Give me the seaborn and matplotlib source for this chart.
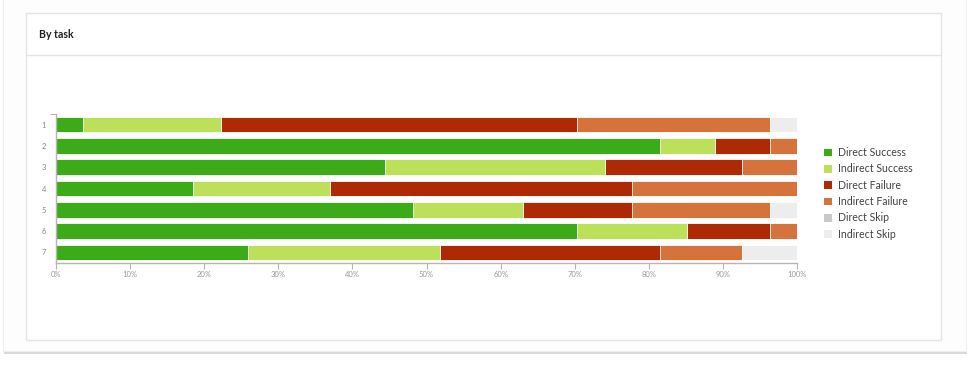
import matplotlib
matplotlib.use("Agg")
import matplotlib.pyplot as plt
from matplotlib.patches import Rectangle, Patch
from matplotlib.lines import Line2D
import pandas as pd
import seaborn as sns

# Participants per outcome for each task (27 participants)
tasks = ["1", "2", "3", "4", "5", "6", "7"]
direct_success = [1, 22, 12, 5, 13, 19, 7]
indirect_success = [5, 2, 8, 5, 4, 4, 7]
direct_failure = [13, 2, 5, 11, 4, 3, 8]
indirect_failure = [7, 1, 2, 6, 5, 1, 3]
direct_skip = [0, 0, 0, 0, 0, 0, 0]
indirect_skip = [1, 0, 0, 0, 1, 0, 2]

outcomes = ["Direct Success", "Indirect Success", "Direct Failure",
            "Indirect Failure", "Direct Skip", "Indirect Skip"]
colors = ["#3cab18", "#bde05b", "#ad2a05", "#d5733b", "#c9c9c9", "#ededed"]

df = pd.DataFrame({
    "task": tasks,
    "Direct Success": direct_success,
    "Indirect Success": indirect_success,
    "Direct Failure": direct_failure,
    "Indirect Failure": indirect_failure,
    "Direct Skip": direct_skip,
    "Indirect Skip": indirect_skip,
})
totals = df[outcomes].sum(axis=1)
pct = df[outcomes].div(totals, axis=0) * 100
cum = pct.cumsum(axis=1)
cum["task"] = df["task"]

sns.set_style("white")
plt.rcParams["font.family"] = ["Lato", "DejaVu Sans"]

fig = plt.figure(figsize=(9.68, 3.73), dpi=100)
W, H = 968, 373


def box(x0, y0, x1, y1, z, **kw):
    # rectangle in pixel coords measured from top-left
    fig.patches.append(Rectangle((x0 / W, 1 - y1 / H), (x1 - x0) / W, (y1 - y0) / H,
                                 transform=fig.transFigure, zorder=z, **kw))


# card with shadow
box(4, -5, 967, 354, -3, facecolor="#d9d9d9", edgecolor="none")
box(3, -5, 966, 351, -2, facecolor="#fdfdfd", edgecolor="#efefef", linewidth=0.8)
# inner panel
box(26, 13, 941, 340, -1, facecolor="white", edgecolor="#e4e4e4", linewidth=1)
fig.lines.append(Line2D([26 / W, 941 / W], [1 - 55 / H, 1 - 55 / H],
                        transform=fig.transFigure, color="#e4e4e4", linewidth=1))
fig.text(39 / W, 1 - 34.5 / H, "By task", fontsize=7.6, color="#222222",
         fontweight="bold", va="center", ha="left")

ax = fig.add_axes([56 / W, 1 - 263 / H, (797 - 56) / W, (263 - 114) / H])
ax.set_facecolor("none")

# stacked bars: draw cumulative totals back to front
for name, col in reversed(list(zip(outcomes, colors))):
    sns.barplot(data=cum, x=name, y="task", order=tasks, orient="h",
                color=col, width=0.73, edgecolor="white", linewidth=0.6,
                saturation=1, ax=ax)

ax.set_xlim(0, 100)
ax.set_ylim(6.5, -0.5)
ax.set_xticks(range(0, 101, 10))
ax.set_xticklabels([f"{v}%" for v in range(0, 101, 10)])
ax.set_xlabel("")
ax.set_ylabel("")
ax.set_yticks([-0.5], minor=True)

for s in ["top", "right"]:
    ax.spines[s].set_visible(False)
for s in ["left", "bottom"]:
    ax.spines[s].set_color("#b5b5b5")
    ax.spines[s].set_linewidth(1)

ax.tick_params(axis="x", colors="#b5b5b5", labelsize=5.5, length=4, width=0.8,
               direction="out", pad=2, bottom=True)
ax.tick_params(axis="x", labelcolor="#999999")
ax.tick_params(axis="y", which="major", length=0, labelsize=5.5,
               labelcolor="#888888", pad=7)
ax.tick_params(axis="y", which="minor", length=4, width=0.8, color="#b5b5b5", left=True)

handles = [Patch(facecolor=c, edgecolor="none", label=n) for n, c in zip(outcomes, colors)]
fig.legend(handles=handles, loc="upper left", bbox_to_anchor=(820 / W, 1 - 143 / H),
           frameon=False, fontsize=7.6, labelcolor="#444444",
           handlelength=0.75, handleheight=0.75, handletextpad=0.55,
           labelspacing=0.5, borderaxespad=0)

fig.savefig("out.png", dpi=100, facecolor="white")
